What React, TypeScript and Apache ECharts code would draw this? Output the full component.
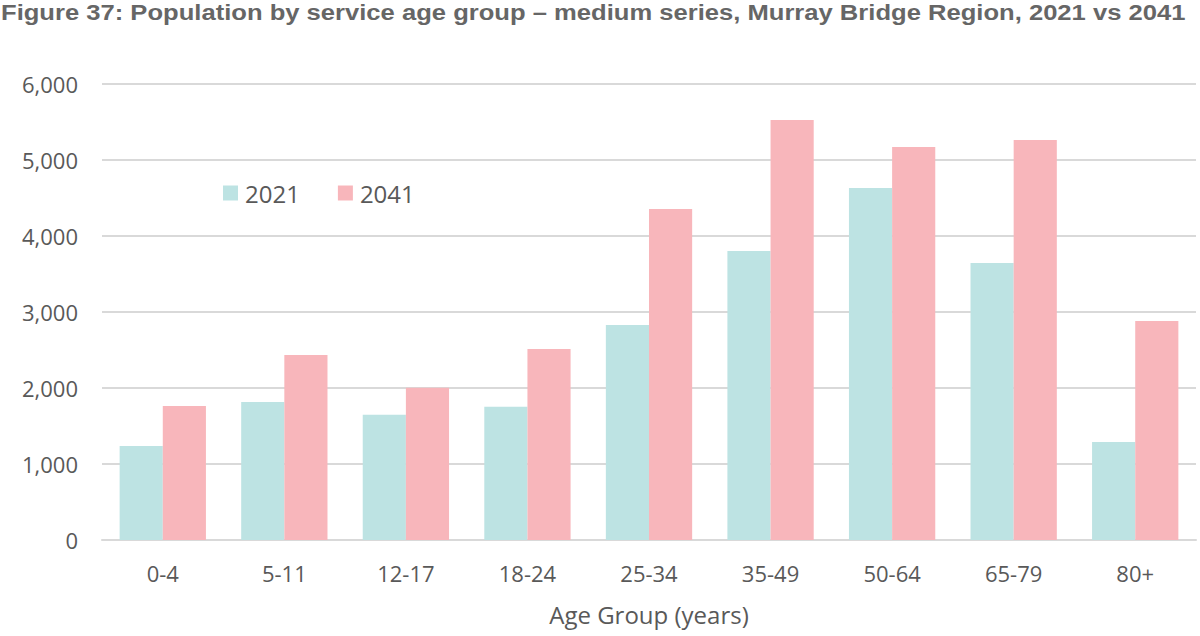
import React, { useEffect, useRef } from "react";
import * as echarts from "echarts";

const titleText =
  "Figure 37: Population by service age group \u2013 medium series, Murray Bridge Region, 2021 vs 2041";
const categories = ["0-4", "5-11", "12-17", "18-24", "25-34", "35-49", "50-64", "65-79", "80+"];
const values2021 = [1237, 1816, 1648, 1754, 2829, 3803, 4632, 3645, 1289];
const values2041 = [1763, 2434, 2004, 2513, 4355, 5526, 5171, 5263, 2882];
const yTicks = { min: 0, max: 6000, interval: 1000 };

const FONT = "'Open Sans', 'Noto Sans', sans-serif";
const TEXT = "#595959";

export default function App() {
  const ref = useRef<HTMLDivElement>(null);
  useEffect(() => {
    if (!ref.current) return;
    const chart = echarts.init(ref.current, null, { renderer: "svg" });
    chart.setOption({
      animation: false,
      backgroundColor: "#ffffff",
      graphic: [
        {
          type: "text",
          x: 1,
          y: 12.5,
          scaleX: 1.163,
          style: {
            text: titleText,
            fontFamily: "'Liberation Sans', Arial, sans-serif",
            fontWeight: "bold",
            fontSize: 22,
            fill: "#666666",
            verticalAlign: "middle",
            align: "left",
          },
        },
      ],
      legend: {
        left: 218,
        top: 176,
        itemWidth: 15,
        itemHeight: 15,
        itemGap: 38,
        icon: "rect",
        textStyle: { fontFamily: FONT, fontSize: 24, color: TEXT, padding: [0, 0, 0, 2] },
        data: ["2021", "2041"],
      },
      grid: { left: 102, right: 4, top: 84, bottom: 96, containLabel: false },
      xAxis: {
        type: "category",
        data: categories,
        name: "Age Group (years)",
        nameLocation: "middle",
        nameGap: 62,
        nameTextStyle: { fontFamily: FONT, fontSize: 24, color: TEXT },
        axisLine: { lineStyle: { color: "#D9D9D9", width: 2 } },
        axisTick: { show: false },
        axisLabel: { fontFamily: FONT, fontSize: 22, color: TEXT, margin: 22 },
      },
      yAxis: {
        type: "value",
        min: yTicks.min,
        max: yTicks.max,
        interval: yTicks.interval,
        axisLine: { show: false },
        axisTick: { show: false },
        splitLine: { lineStyle: { color: "#D9D9D9", width: 2 } },
        axisLabel: {
          fontFamily: FONT,
          fontSize: 22,
          color: TEXT,
          margin: 24,
          formatter: (v: number) => v.toLocaleString("en-US"),
        },
      },
      series: [
        {
          name: "2021",
          type: "bar",
          data: values2021,
          barGap: "0%",
          barCategoryGap: "29%",
          itemStyle: { color: "#BDE3E3" },
        },
        {
          name: "2041",
          type: "bar",
          data: values2041,
          barGap: "0%",
          barCategoryGap: "29%",
          itemStyle: { color: "#F8B6BB" },
        },
      ],
    });
    return () => chart.dispose();
  }, []);
  return (
    <div
      ref={ref}
      style={{ position: "absolute", left: 0, top: 0, width: 1200, height: 636 }}
    />
  );
}
